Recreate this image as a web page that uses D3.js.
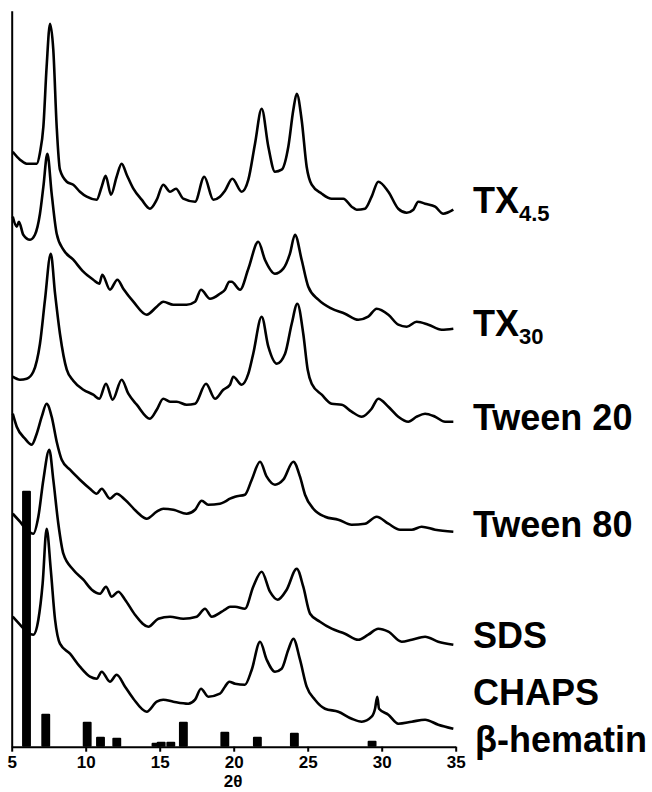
<!DOCTYPE html>
<html><head><meta charset="utf-8">
<script src="https://cdn.jsdelivr.net/npm/d3@7/dist/d3.min.js"></script>
<style>
body{margin:0;background:#fff}
svg{display:block}
text{font-family:"Liberation Sans",Arial,Helvetica,sans-serif;font-weight:bold;fill:#000}
</style>
</head><body><svg id="c" width="652" height="792"></svg>
<script>
// ---------------- data ----------------
const xTicks = [5, 10, 15, 20, 25, 30, 35];
const xLabel = "2θ";

const labelMain = ["TX", "TX", "Tween 20", "Tween 80", "SDS", "CHAPS", "β-hematin"];
const labelSub  = ["4.5", "30", "", "", "", "", ""];

// [2θ, stacked intensity (a.u.)]
const tx45 = [[5.07,595],[5.56,587],[6.01,583],[6.69,583],[6.91,594],[7.14,620],[7.36,680],[7.59,723],[7.81,697],[8.04,620],[8.26,577],[8.72,565],[9.16,562],[9.61,555],[10.07,550],[10.74,547],[11.08,560],[11.35,571],[11.71,552],[12.09,570],[12.43,583],[12.77,572],[13.22,558],[13.78,547],[14.34,538],[14.80,547],[15.24,562],[15.70,555],[16.10,558],[16.59,548],[17.39,545],[18.01,570],[18.62,547],[19.07,550],[19.41,556],[19.91,568],[20.54,555],[20.99,567],[21.44,603],[21.89,638],[22.34,600],[22.79,575],[23.24,577],[23.69,600],[24.03,637],[24.26,653],[24.59,627],[24.93,580],[25.27,562],[25.95,553],[26.62,548],[27.41,548],[27.97,540],[28.31,537],[28.87,538],[29.32,550],[29.77,565],[30.45,555],[31.12,538],[31.69,534],[32.14,537],[32.47,545],[32.93,543],[33.61,540],[34.16,533],[34.84,537]];

const tx30 = [[5.07,530],[5.34,520],[5.49,525],[5.78,512],[6.24,507],[6.57,512],[6.91,533],[7.14,560],[7.41,593],[7.70,553],[8.04,513],[8.49,497],[9.16,487],[9.84,475],[10.51,467],[10.92,463],[11.12,472],[11.64,457],[12.14,467],[12.54,458],[13.22,445],[14.12,432],[14.80,440],[15.24,445],[15.92,442],[16.82,442],[17.39,445],[17.79,457],[18.40,448],[19.07,453],[19.41,457],[19.70,465],[19.86,465],[20.43,457],[20.99,478],[21.66,505],[22.11,487],[22.79,473],[23.35,478],[23.80,493],[24.14,512],[24.59,487],[25.04,460],[25.72,447],[26.62,438],[27.52,433],[28.42,427],[29.09,430],[29.66,438],[30.45,432],[31.12,422],[31.69,420],[32.36,425],[33.15,422],[34.05,417],[34.84,418]];

const tween20 = [[5.07,370],[5.56,367],[6.01,368],[6.46,375],[6.91,403],[7.25,447],[7.64,493],[7.93,453],[8.26,413],[8.72,377],[9.16,366],[9.84,357],[10.51,352],[10.92,348],[11.37,363],[11.82,347],[12.43,367],[12.88,353],[13.45,342],[14.34,328],[14.80,337],[15.24,348],[15.70,345],[16.15,345],[16.82,342],[17.39,343],[18.13,363],[18.74,348],[19.30,357],[19.75,362],[19.97,370],[20.54,362],[20.99,373],[21.32,393],[21.89,430],[22.34,400],[22.91,383],[23.47,393],[23.92,423],[24.30,443],[24.70,413],[25.00,377],[25.27,363],[25.95,352],[26.62,343],[27.30,342],[27.97,335],[28.65,330],[29.32,338],[29.77,348],[30.45,340],[31.12,330],[31.80,325],[32.36,330],[32.93,333],[33.61,330],[34.28,325],[34.84,325]];

const tween80 = [[5.07,333],[5.34,320],[5.90,308],[6.35,302],[6.69,313],[7.03,330],[7.36,343],[7.70,330],[8.04,305],[8.38,287],[8.94,277],[9.61,267],[10.29,258],[10.74,253],[11.08,258],[11.64,248],[12.09,253],[12.66,247],[13.45,235],[14.12,228],[14.80,235],[15.24,238],[15.92,237],[16.82,233],[17.39,237],[17.84,246],[18.28,242],[19.07,243],[19.41,245],[19.75,248],[20.09,250],[20.76,252],[21.22,267],[21.78,285],[22.23,270],[22.79,262],[23.35,267],[24.03,285],[24.48,270],[24.82,252],[25.38,238],[26.17,230],[27.07,227],[27.97,222],[28.87,223],[29.66,230],[30.45,223],[31.24,217],[32.03,217],[32.70,220],[33.61,217],[34.84,215]];

const sds = [[5.07,233],[5.56,225],[6.01,217],[6.46,213],[6.80,230],[7.14,267],[7.54,297],[7.81,267],[8.15,223],[8.49,193],[9.16,177],[9.84,167],[10.41,157],[10.97,153],[11.37,160],[11.76,150],[12.20,155],[12.66,147],[13.33,132],[14.23,120],[14.91,128],[15.70,130],[16.59,128],[17.50,130],[18.06,138],[18.51,130],[19.19,135],[19.41,137],[19.75,140],[20.09,140],[20.76,138],[21.32,160],[21.89,175],[22.45,155],[22.97,147],[23.58,157],[24.26,178],[24.70,160],[25.16,133],[25.83,125],[26.62,118],[27.52,113],[28.42,107],[29.09,112],[29.77,118],[30.45,115],[31.35,105],[32.03,107],[32.93,110],[33.82,105],[34.84,102]];

const chaps = [[5.07,130],[5.56,122],[6.01,115],[6.46,112],[6.80,127],[7.09,163],[7.36,218],[7.64,177],[7.93,127],[8.26,103],[8.94,93],[9.61,80],[10.29,70],[10.74,68],[11.08,75],[11.64,65],[12.09,72],[12.66,60],[13.22,48],[14.12,35],[14.80,45],[15.24,47],[15.92,45],[16.93,43],[17.39,47],[17.79,58],[18.28,50],[19.07,53],[19.41,60],[19.70,65],[20.09,63],[20.76,62],[21.22,77],[21.78,105],[22.23,87],[22.79,75],[23.24,78],[23.69,97],[24.03,108],[24.48,87],[24.93,60],[25.49,47],[26.17,38],[27.07,35],[27.97,28],[28.65,25],[29.32,30],[29.55,38],[29.70,50],[29.82,38],[30.45,32],[31.12,23],[32.03,25],[32.93,27],[33.82,22],[34.84,18]];

// β-hematin reference reflections
const hematinPos = [6.0, 7.3, 10.1, 11.0, 12.1, 14.75, 15.1, 15.75, 16.6, 19.4, 21.6, 24.1, 29.35];
const hematinInt = [256, 33, 25, 10, 9, 4, 5, 5, 25, 15, 10, 14, 6];

const series = [tx45, tx30, tween20, tween80, sds, chaps];

// ---------------- layout ----------------
const W = 652, H = 792;
const svg = d3.select("#c");
svg.append("rect").attr("width", W).attr("height", H).attr("fill", "#fff");

const x = d3.scaleLinear().domain([5, 35]).range([11.7, 455.7]);
const y = d3.scaleLinear().domain([0, 736]).range([746.7, 10.7]);

const barHalf = 0.3;

// bars
svg.append("g").selectAll("rect").data(hematinPos).join("rect")
  .attr("x", d => x(d - barHalf))
  .attr("width", d => x(d + barHalf) - x(d - barHalf))
  .attr("y", (d, i) => y(hematinInt[i]))
  .attr("height", (d, i) => y(0) - y(hematinInt[i]))
  .attr("rx", 1)
  .attr("fill", "#000");

// traces
const line = d3.line().x(d => x(d[0])).y(d => y(d[1])).curve(d3.curveMonotoneX);
svg.append("g").selectAll("path").data(series).join("path")
  .attr("d", line)
  .attr("fill", "none")
  .attr("stroke", "#000")
  .attr("stroke-width", 2.6)
  .attr("stroke-linejoin", "round");

// axes
const gx = svg.append("g").attr("transform", `translate(0,${y(0)})`)
  .call(d3.axisBottom(x).tickValues(xTicks).tickSize(5).tickSizeOuter(0).tickPadding(4).tickFormat(d3.format("d")));
gx.attr("font-size", null).attr("font-family", null);
gx.select(".domain").attr("stroke-width", 2).attr("stroke", "#000");
gx.selectAll(".tick line").attr("stroke-width", 2).attr("stroke", "#000");
gx.selectAll(".tick text").style("font-size", "17px").style("font-weight", "bold").attr("fill", "#000");

const gy = svg.append("g").attr("transform", `translate(${x(5)},0)`)
  .call(d3.axisLeft(y).tickValues([]).tickSizeOuter(0));
gy.select(".domain").attr("stroke-width", 2).attr("stroke", "#000");

svg.append("text").attr("x", 233).attr("y", 787).attr("text-anchor", "middle")
  .style("font-size", "17px").text(xLabel);

// labels
const labelX = 473;
const labelY = [213, 336, 430, 537, 648, 705, 752];
labelMain.forEach((t, i) => {
  const tx = svg.append("text").attr("x", i === 6 ? 475 : labelX).attr("y", labelY[i]).style("font-size", "36px").text(t);
  if (labelSub[i]) {
    tx.append("tspan").style("font-size", "22px").attr("dy", 8).text(labelSub[i]);
  }
});
</script>
</body></html>
